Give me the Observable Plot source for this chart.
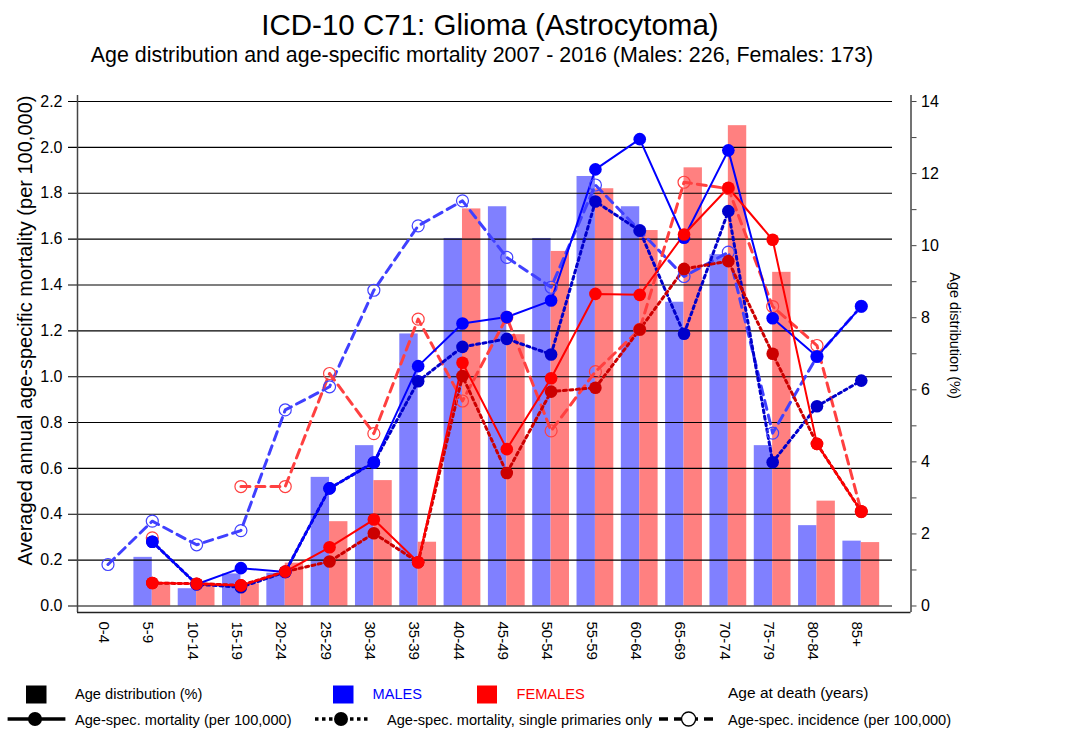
<!DOCTYPE html>
<html><head><meta charset="utf-8">
<script src="https://cdn.jsdelivr.net/npm/d3@7"></script>
<script src="https://cdn.jsdelivr.net/npm/@observablehq/plot@0.6"></script>
<style>
body{margin:0;background:#fff;font-family:"Liberation Sans",Arial,Helvetica,sans-serif;}
#wrap{position:relative;width:1082px;height:731px;overflow:hidden;background:#fff;}
.t{position:absolute;white-space:nowrap;line-height:1;}
#chart{position:absolute;left:0;top:0;}
#legend{position:absolute;left:0;top:670px;}
.lg{font-size:14.6px;}
</style></head><body><div id="wrap"><div id="chart"></div>
<div class="t" style="left:0;width:980px;top:10px;text-align:center;font-size:29.5px;">ICD-10 C71: Glioma (Astrocytoma)</div>
<div class="t" style="left:0;width:964px;top:45px;text-align:center;font-size:21.4px;">Age distribution and age-specific mortality 2007 - 2016 (Males: 226, Females: 173)</div>
<svg id="legend" width="1082" height="61">
  <rect x="26" y="15.5" width="20.5" height="18" fill="#000"/>
  <rect x="333" y="15.5" width="20.5" height="18" fill="#0000ff"/>
  <rect x="477" y="15.5" width="20" height="18" fill="#ff0000"/>
  <line x1="7.6" y1="49" x2="65.4" y2="49" stroke="#000" stroke-width="3.5"/>
  <circle cx="35" cy="49" r="7" fill="#000"/>
  <line x1="315" y1="49" x2="368" y2="49" stroke="#000" stroke-width="3.5" stroke-dasharray="3.5,3.5"/>
  <circle cx="341" cy="49" r="7" fill="#000"/>
  <line x1="659" y1="49" x2="717" y2="49" stroke="#000" stroke-width="3.5" stroke-dasharray="9,6"/>
  <circle cx="688.6" cy="49" r="7" fill="#fff" stroke="#000" stroke-width="1.3"/>
</svg>
<div class="t lg" style="left:75px;top:687px;">Age distribution (%)</div>
<div class="t lg" style="left:372.6px;top:687px;color:#0000ff;">MALES</div>
<div class="t lg" style="left:516.5px;top:687px;color:#ff0000;">FEMALES</div>
<div class="t" style="left:728px;top:684.7px;font-size:15.5px;">Age at death (years)</div>
<div class="t lg" style="left:75px;top:713px;">Age-spec. mortality (per 100,000)</div>
<div class="t lg" style="left:387px;top:713px;">Age-spec. mortality, single primaries only</div>
<div class="t lg" style="left:728px;top:713px;">Age-spec. incidence (per 100,000)</div>
</div>
<script>
// ---- data ----
const categories = ["0-4","5-9","10-14","15-19","20-24","25-29","30-34","35-39","40-44","45-49","50-54","55-59","60-64","65-69","70-74","75-79","80-84","85+"];
// age distribution (%)
const maleDist   = [0, 1.35, 0.48, 0.89, 0.91, 3.57, 4.45, 7.55, 10.2, 11.08, 10.2, 11.92, 11.08, 8.43, 9.75, 4.45, 2.23, 1.80];
const femaleDist = [0, 0.66, 0.64, 0.62, 1.19, 2.34, 3.48, 1.77, 11.02, 7.53, 9.84, 11.58, 10.42, 12.16, 13.33, 9.26, 2.91, 1.76];
// age-specific mortality (per 100,000)
const maleMort     = [null, 0.28, 0.095, 0.165, 0.148, 0.513, 0.626, 1.046, 1.232, 1.26, 1.332, 1.904, 2.036, 1.606, 1.987, 1.255, 1.088, 1.307];
const maleSingle   = [null, 0.28, 0.095, 0.082, 0.148, 0.513, 0.626, 0.98, 1.13, 1.165, 1.097, 1.764, 1.637, 1.187, 1.722, 0.627, 0.871, 0.983];
const maleInc      = [0.181, 0.37, 0.267, 0.329, 0.855, 0.956, 1.377, 1.658, 1.767, 1.52, 1.39, 1.836, 1.637, 1.437, 1.543, 0.754, 1.088, 1.307];
const femaleMort   = [null, 0.1, 0.097, 0.09, 0.15, 0.256, 0.377, 0.191, 1.061, 0.684, 0.993, 1.361, 1.357, 1.62, 1.824, 1.597, 0.707, 0.412];
const femaleSingle = [null, 0.1, 0.097, 0.09, 0.15, 0.194, 0.317, 0.191, 1.003, 0.58, 0.935, 0.952, 1.206, 1.47, 1.504, 1.10, 0.707, 0.412];
const femaleInc    = [null, 0.297, null, 0.521, 0.521, 1.014, 0.752, 1.251, 0.894, 1.259, 0.764, 1.022, 1.206, 1.848, 1.82, 1.306, 1.136, 0.412];
// tick values
const leftTicks = [0, 0.2, 0.4, 0.6, 0.8, 1.0, 1.2, 1.4, 1.6, 1.8, 2.0, 2.2];
const rightMajor = [0, 2, 4, 6, 8, 10, 12, 14];
const rightMinor = [1, 3, 5, 7, 9, 11, 13];
const leftLabel = "Averaged annual age-specific mortality (per 100,000)";
const rightLabel = "Age distribution (%)";

// ---- layout ----
const k = 2.2 / 14;           // % -> mortality axis units
const xDomain = [-0.688, 18.122];
const yDomain = [-0.02835, 2.2263];
const gridX1 = -0.891, gridX2 = 17.705;
const barW = 0.415;

const idx = categories.map((c, i) => i);
const series = (arr) => arr.map((v, i) => ({i, v}));
const distM = maleDist.map((p, i) => ({i, p}));
const distF = femaleDist.map((p, i) => ({i, p}));

const lineSet = [
  {data: maleInc, color: "#4040ff", dash: "9,6", w: 3, kind: "open"},
  {data: femaleInc, color: "#ff4040", dash: "9,6", w: 3, kind: "open"},
  {data: maleSingle, color: "#0000cc", dash: "3,3.5", w: 3, kind: "filled"},
  {data: femaleSingle, color: "#cc0000", dash: "3,3.5", w: 3, kind: "filled"},
  {data: maleMort, color: "#0000ff", dash: null, w: 2, kind: "filled"},
  {data: femaleMort, color: "#ff0000", dash: null, w: 2, kind: "filled"}
];

const marks = [
  Plot.rectY(distM.filter(d => d.p > 0), {x1: d => d.i - barW, x2: d => d.i, y1: 0, y2: d => d.p * k, fill: "#8080ff"}),
  Plot.rectY(distF.filter(d => d.p > 0), {x1: d => d.i, x2: d => d.i + barW, y1: 0, y2: d => d.p * k, fill: "#ff8080"}),
  Plot.ruleY(leftTicks, {y: d => d, x1: gridX1, x2: gridX2, stroke: "#000", strokeWidth: 1.1}),
];
for (const s of lineSet) {
  const d = series(s.data);
  marks.push(Plot.line(d, {x: "i", y: "v", stroke: s.color, strokeWidth: s.w, strokeDasharray: s.dash, curve: "linear"}));
}
for (const s of lineSet) {
  const d = series(s.data).filter(e => e.v != null);
  if (s.kind === "open") marks.push(Plot.dot(d, {x: "i", y: "v", r: 6, stroke: s.color, strokeWidth: 1.2, fill: "none"}));
  else marks.push(Plot.dot(d, {x: "i", y: "v", r: 6.3, fill: s.color, stroke: "none"}));
}
marks.push(
  Plot.ruleX([xDomain[0]], {y1: yDomain[0], y2: yDomain[1], stroke: "#444", strokeWidth: 1.5}),
  Plot.ruleX([xDomain[1]], {y1: yDomain[0], y2: yDomain[1], stroke: "#444", strokeWidth: 1.5}),
  Plot.ruleY([yDomain[0]], {x1: xDomain[0], x2: xDomain[1], stroke: "#222", strokeWidth: 1.5}),
  Plot.axisY(leftTicks, {anchor: "left", tickSize: 0, tickPadding: 15, tickFormat: d3.format(".1f"), fontSize: 16, label: null}),
  Plot.axisY(rightMajor.map(v => v * k), {anchor: "right", tickSize: 5, tickPadding: 5, tickFormat: d => String(Math.round(d / k)), fontSize: 16, label: null, stroke: "#444"}),
  Plot.axisY(rightMinor.map(v => v * k), {anchor: "right", tickSize: 5, tickFormat: () => "", label: null, stroke: "#444"}),
  Plot.axisX(idx, {anchor: "bottom", tickSize: 0, tickPadding: 9, tickRotate: 90, dx: -4, tickFormat: i => categories[i], fontSize: 15, label: null}),
  Plot.text([leftLabel], {text: d => d, frameAnchor: "left", textAnchor: "middle", dx: -52, dy: -23.5, rotate: -90, fontSize: 20}),
  Plot.text([rightLabel], {text: d => d, frameAnchor: "right", textAnchor: "middle", dx: 44, dy: -18.5, rotate: 90, fontSize: 14.5})
);

const chart = Plot.plot({
  width: 1082, height: 731,
  marginLeft: 77, marginRight: 171.5, marginTop: 95, marginBottom: 119,
  style: {fontFamily: "'Liberation Sans', Arial, sans-serif", color: "#000", background: "transparent"},
  x: {type: "linear", domain: xDomain},
  y: {type: "linear", domain: yDomain},
  marks
});
document.getElementById("chart").appendChild(chart);
</script></body></html>
